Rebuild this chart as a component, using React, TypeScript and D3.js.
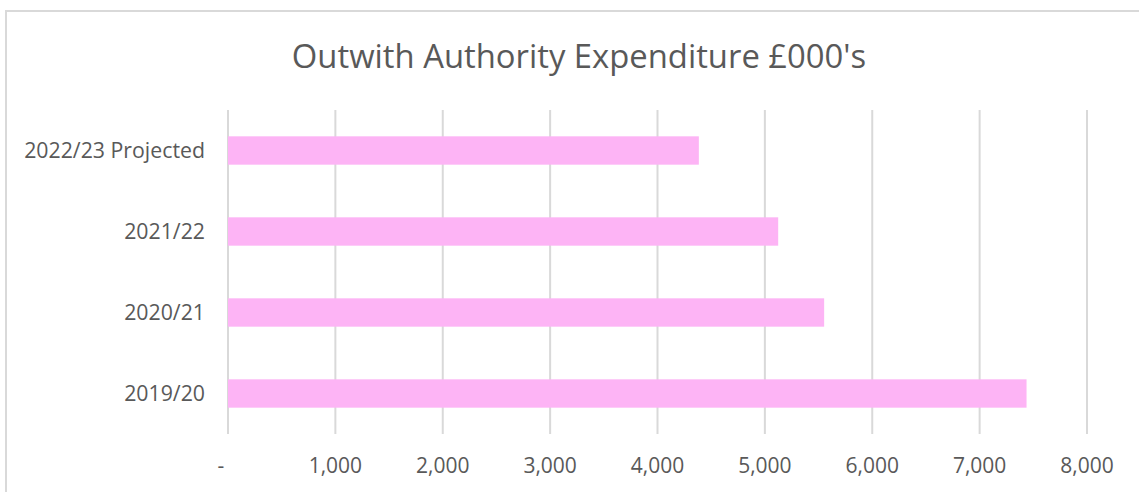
import React from "react";
import * as d3 from "d3";

const categories = ["2022/23 Projected", "2021/22", "2020/21", "2019/20"];
const values = [4385, 5124, 5552, 7437];
const xTicks = [0, 1000, 2000, 3000, 4000, 5000, 6000, 7000, 8000];
const title = "Outwith Authority Expenditure £000's";

const W = 1139;
const H = 492;
const FONT = "'Open Sans', sans-serif";
const TEXT = "#595959";

export default function App() {
  const x = d3.scaleLinear().domain([0, 8000]).range([228, 1087]);
  const y = d3.scaleBand().domain(categories).range([110, 434]).paddingInner(0.65).paddingOuter(0.325);
  const fmt = (v: number) => (v === 0 ? "-" : d3.format(",")(v));

  return (
    <svg width={W} height={H} style={{ position: "absolute", left: 0, top: 0, background: "#fff" }}>
      <rect x={6} y={11} width={W + 20} height={H + 20} fill="#fff" stroke="#d9d9d9" strokeWidth={2} />
      <text x={579} y={68} textAnchor="middle" fontFamily={FONT} fontSize={32.8} fill={TEXT}>
        {title}
      </text>
      {xTicks.map((t) => (
        <line key={"g" + t} x1={x(t)} x2={x(t)} y1={110} y2={434} stroke="#d9d9d9" strokeWidth={2} />
      ))}
      {categories.map((c, i) => (
        <rect key={c} x={x(0)} y={y(c)} width={x(values[i]) - x(0)} height={y.bandwidth()} fill="#FDB4F5" />
      ))}
      {categories.map((c) => (
        <text key={"l" + c} x={205} y={(y(c) as number) + y.bandwidth() / 2 + 7.5} textAnchor="end" fontFamily={FONT} fontSize={21.3} fill={TEXT}>
          {c}
        </text>
      ))}
      {xTicks.map((t) => (
        <text key={"t" + t} x={x(t) - (t === 0 ? 7 : 0)} y={473} textAnchor="middle" fontFamily={FONT} fontSize={21} fill={TEXT}>
          {fmt(t)}
        </text>
      ))}
    </svg>
  );
}
